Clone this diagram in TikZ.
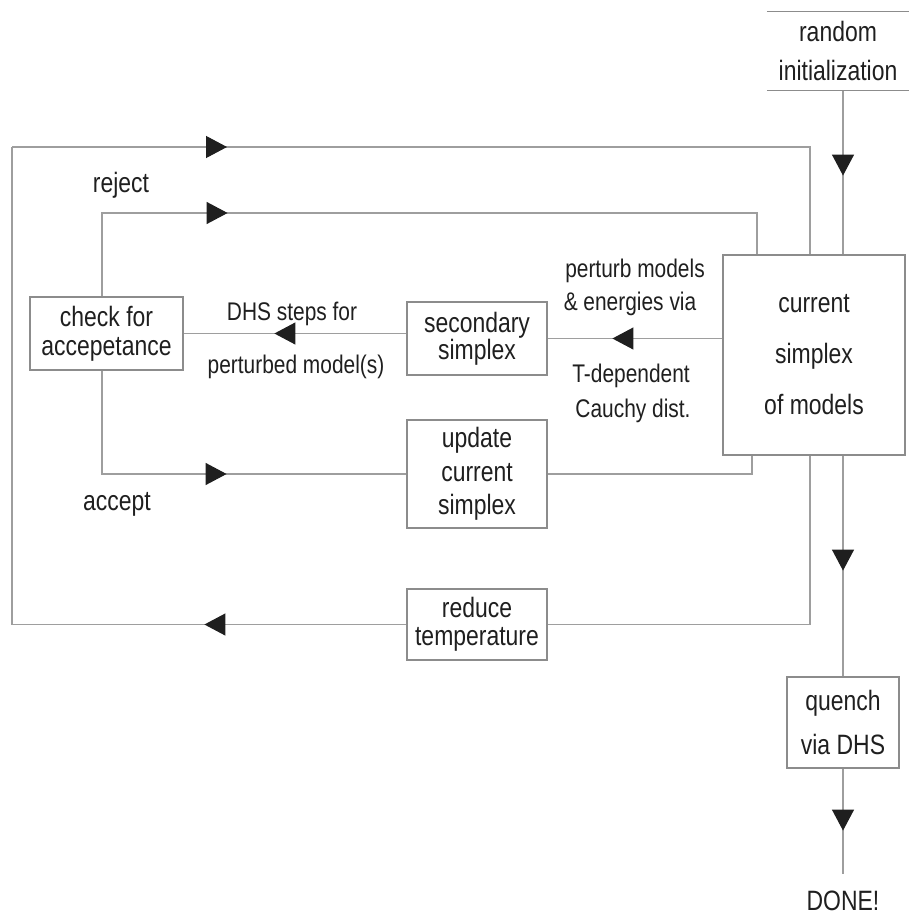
\documentclass[tikz,border=0pt]{standalone}
\usepackage{fontspec}
\setmainfont{Liberation Sans}[FakeStretch=0.82]
\usetikzlibrary{arrows.meta,decorations.markings}
\definecolor{wiregray}{gray}{0.62}
\definecolor{framegray}{gray}{0.55}
\definecolor{ink}{gray}{0.12}
\tikzset{
  box/.style = {draw=framegray, line width=1.2pt, inner sep=0pt,
                align=center, text=ink},
  wire/.style = {draw=wiregray, line width=1.2pt},
  midtip/.style = {postaction={decorate},
                   decoration={markings, mark=at position #1 with
                     {\arrow{Triangle[length=21pt,width=22pt,color=ink]}}}},
  lbl/.style = {text=ink, anchor=base, inner sep=0pt,
                font=\fontsize{25.5}{26}\selectfont}
}
\newcommand{\boxfont}[1]{\fontsize{28}{#1}\selectfont}

\begin{document}
\begin{tikzpicture}[x=1pt,y=-1pt]
	\useasboundingbox (0,0) rectangle (908,917);

	% Boxes
	\node[box, draw=none, minimum width=141pt, minimum height=78pt, font=\boxfont{39}] (init) at (838,51) {random\\initialization};
	\node[box, minimum width=182pt, minimum height=200pt, font=\boxfont{51}] (cur) at (814,355) {current\\simplex\\of models};
	\node[box, minimum width=140pt, minimum height=73pt, font=\boxfont{27}] (sec) at (477,338.5) {secondary\\simplex};
	\node[box, minimum width=153pt, minimum height=73pt, font=\boxfont{29}] (chk) at (106.5,333.5) {check for\\accepetance};
	\node[box, minimum width=140pt, minimum height=108pt, font=\boxfont{33.5}] (upd) at (477,474) {update\\current\\simplex};
	\node[box, minimum width=140pt, minimum height=71pt, font=\boxfont{28}] (red) at (477,624.5) {reduce\\temperature};
	\node[box, minimum width=112pt, minimum height=91pt, font=\boxfont{44}] (qch) at (843,722.5) {quench\\via DHS};
	\node[lbl, font=\boxfont{28}] (done) at (843,910) {DONE!};

	% only top and bottom rules on the start box
	\draw[draw=framegray, line width=1.2pt] (init.north west) -- ([xshift=10pt]init.north east);
	\draw[draw=framegray, line width=1.2pt] (init.south west) -- ([xshift=10pt]init.south east);

	% Corners
	\coordinate (cornerA) at (12,147);
	\coordinate (cornerR) at (757,213);

	% Main line down the right
	\draw[wire, midtip=85pt] (init.south -| qch.north) -- (cur.north -| qch.north);
	\draw[wire, midtip=115pt] (cur.south -| qch.north) -- (qch.north);
	\draw[wire, midtip=62pt] (qch.south) -- ([yshift=16pt]done.north);

	% Outer loop (temperature)
	\draw[wire] ([xshift=-4pt]cur.south) |- (red.east);
	\draw[wire, midtip=202pt] (red.west) -| (cornerA);
	\draw[wire, midtip=215pt] (cornerA) -| ([xshift=-4pt]cur.north);

	% Inner loop
	\draw[wire, midtip=110pt] (cur.west |- sec.east) -- (sec.east);
	\draw[wire, midtip=132pt] (sec.west |- chk.east) -- (chk.east);
	\draw[wire, midtip=209pt] ([xshift=-4.5pt]chk.north) |- (cornerR) -- (cornerR |- cur.north);
	\draw[wire, midtip=228pt] ([xshift=-4.5pt]chk.south) |- (upd.west);
	\draw[wire] (upd.east) -| ([xshift=-62pt]cur.south);

	% Labels
	\node[lbl, font=\boxfont{28}] (rej) at (121,193) {reject};
	\node[lbl, font=\boxfont{28}] (acc) at (117,510) {accept};
	\node[lbl] (dhs1) at (292,320) {DHS steps for};
	\node[lbl] (dhs2) at (296,373) {perturbed model(s)};
	\node[lbl] (pert1) at (635,277) {perturb models};
	\node[lbl] (pert2) at (630,310) {\& energies via};
	\node[lbl] (pert3) at (631,382) {T-dependent};
	\node[lbl] (pert4) at (633,417) {Cauchy dist.};
\end{tikzpicture}
\end{document}
